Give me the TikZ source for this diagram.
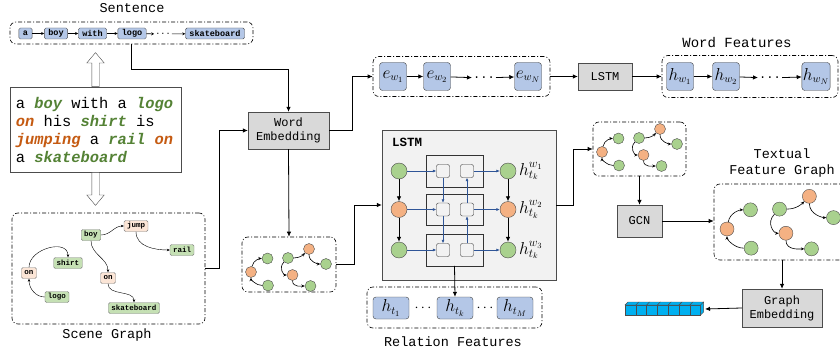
\documentclass[tikz,border=0pt]{standalone}
\usepackage{fontspec}
\setmonofont{Liberation Mono}[WordSpace={1,0,0}]
\usetikzlibrary{calc}
\usetikzlibrary{arrows.meta}
\usetikzlibrary{shapes.arrows}

\definecolor{tokblue}{HTML}{B4C7E7}
\definecolor{dotgreen}{HTML}{A9D18E}
\definecolor{dotorange}{HTML}{F4B183}
\definecolor{objgreen}{HTML}{C5E0B4}
\definecolor{relpink}{HTML}{FBE5D6}
\definecolor{wgreen}{HTML}{548235}
\definecolor{worange}{HTML}{C55A11}
\definecolor{boxgray}{HTML}{D9D9D9}
\definecolor{lstmbg}{HTML}{F2F2F2}
\definecolor{gateblue}{HTML}{2F5597}
\definecolor{tensorcyan}{HTML}{00B0F0}

\newcommand\gw[1]{\textcolor{wgreen}{\bfseries\itshape #1}}
\newcommand\ow[1]{\textcolor{worange}{\bfseries\itshape #1}}

\tikzset{
 frame/.style={draw, dash pattern=on 4pt off 2pt on 1pt off 2pt, rounded corners=6pt, semithick},
 flow/.style={black, thick, -{Latex[length=5pt,width=4.5pt]}},
 tiny/.style={black, semithick, -{Stealth[length=3pt,width=3pt]}},
 edge/.style={black, thin, -{Stealth[length=3pt,width=2.5pt]}},
 gedge/.style={black, semithick, -{Stealth[length=3.5pt,width=3pt]}},
 title/.style={font=\ttfamily\fontsize{13.5}{16}\selectfont},
 tok/.style={draw=black!70, fill=tokblue, rounded corners=1.5pt, font=\ttfamily\bfseries\fontsize{8.5}{8.5}\selectfont, minimum height=11pt, inner xsep=4pt, inner ysep=0pt},
 obj/.style={draw=black!50, fill=objgreen, rounded corners=1.5pt, font=\ttfamily\bfseries\fontsize{7.5}{7.5}\selectfont, minimum height=11pt, inner xsep=3pt, inner ysep=0pt},
 rel/.style={obj, fill=relpink},
 vec/.style={draw=black!75, fill=tokblue, rounded corners=3pt, minimum width=27pt, minimum height=28pt, inner sep=1pt, font=\fontsize{16}{16}\selectfont},
 dots/.style={font=\ttfamily\fontsize{12}{12}\selectfont, inner sep=1pt},
 gbox/.style={draw=black!70, fill=boxgray, align=center, font=\ttfamily\fontsize{12}{14}\selectfont},
 hollow/.style={single arrow, draw=black!70, fill=white, inner xsep=0pt, inner ysep=3.5pt, single arrow head extend=5pt, single arrow tip angle=80},
 dot/.style={circle, draw=black!70, minimum size=16pt, inner sep=0pt},
 gdot/.style={circle, draw=black!70, minimum size=11pt, inner sep=0pt},
 gate/.style={draw=black!80, thin},
 sq/.style={draw=black!80, fill=lstmbg, rounded corners=2pt, minimum size=13pt, inner sep=0pt},
 gatearrow/.style={gateblue, line width=0.6pt, -{Latex[length=3.5pt,width=3pt]}},
 tensor/.style={draw=black!70, fill=tensorcyan, line width=0.4pt},
 pics/featgraph/.style={code={
  \node[gdot, fill=dotorange] (-a) at (0,0) {};
  \node[gdot, fill=dotgreen] (-b) at (16.5,-13.5) {};
  \node[gdot, fill=dotgreen] (-c) at (17,13.5) {};
  \node[gdot, fill=dotgreen] (-d) at (37,-14) {};
  \node[gdot, fill=dotorange] (-e) at (58,-23) {};
  \node[gdot, fill=dotgreen] (-f) at (75,-8) {};
  \node[gdot, fill=dotorange] (-g) at (41.5,3) {};
  \node[gdot, fill=dotgreen] (-h) at (59.5,14) {};
  \draw[gedge] (-a) to[out=80,in=180] (-b);
  \draw[gedge] (-c) to[out=180,in=-90] (-a);
  \draw[gedge] (-d) to[out=0,in=225] (-e);
  \draw[gedge] (-e) to[out=-90,in=180] (-f);
  \draw[gedge] (-d) to[out=225,in=180,looseness=1.4] (-g);
  \draw[gedge] (-g) to[out=-90,in=180] (-h);
 }}
}

\begin{document}
\begin{tikzpicture}[x=1pt, y=-1pt]
\useasboundingbox (0,0) rectangle (840,350);
\clip (0,0) rectangle (840,350);

% sentence tokens
\node[title] at (132,8) {Sentence};
\node[frame, minimum width=243pt, minimum height=22pt] (sent) at (131.5,33) {};
\node[tok] (w1) at (25.5,33.5) {a};
\node[tok] (w2) at (56,33.5) {boy};
\node[tok] (w3) at (92.5,33.5) {with};
\node[tok] (w4) at (132,33.5) {logo};
\node[dots, font=\ttfamily\fontsize{8.5}{8.5}\selectfont] (w5) at (163,34) {...};
\node[tok] (w6) at (215,33.5) {skateboard};
\foreach \a/\b in {w1/w2,w2/w3,w3/w4,w4/w5,w5/w6}
 \draw[tiny] (\a) -- (\b);

% caption text
\node[draw=black!70, fill=white, text width=159pt, inner xsep=6pt, minimum height=85pt, align=left,
 font=\ttfamily\fontsize{15.4}{18}\selectfont] (txt) at (95.5,129.5)
 {\spaceskip=0.6em\relax a \gw{boy} with a \gw{logo}\\\ow{on} his \gw{shirt} is\\\ow{jumping} a \gw{rail} \ow{on}\\a \gw{skateboard}};
\node[hollow, rotate=90, minimum height=34pt, anchor=tail] (up) at (txt.north) {};
\node[hollow, rotate=-90, minimum height=33pt, anchor=tail] (down) at (txt.south) {};

% scene graph
\node[frame, minimum width=193pt, minimum height=111pt] (scene) at (108.5,268.5) {};
\node[title] at (107,335) {Scene Graph};
\node[obj] (boy) at (91,235) {boy};
\node[rel] (jump) at (136,226) {jump};
\node[obj] (rail) at (182,250) {rail};
\node[obj] (shirt) at (68,263) {shirt};
\node[rel] (on1) at (29,273) {on};
\node[rel] (on2) at (108,278) {on};
\node[obj] (logo) at (57,297) {logo};
\node[obj] (skate) at (134,308) {skateboard};
\draw[edge] (boy.east) to[out=0,in=180] (jump.west);
\draw[edge] (jump.south) to[out=-90,in=180] (rail.west);
\draw[edge] (boy.south) to[out=-90,in=90] (on2.north);
\draw[edge] (on2.south) to[out=-90,in=90] (skate.north);
\draw[edge] (on1.north) to[out=90,in=90,looseness=1.2] (shirt.north);
\draw[edge] (logo.west) to[out=180,in=-90] (on1.south);

% word embedding
\node[gbox, minimum width=81pt, minimum height=37pt] (we) at (288.5,130.5) {Word\\Embedding};
\draw[flow] (sent.south) -- ++(0,25) -| (we.north);
\draw[flow] (scene.east) -- ++(14,0) |- (we.west);

% word features
\node[frame, minimum width=177pt, minimum height=40pt] (eframe) at (461.5,76.5) {};
\node[vec] (e1) at (393,76.5) {$e_{w_1}$};
\node[vec] (e2) at (437,76.5) {$e_{w_2}$};
\node[dots] (edots) at (484,78) {...};
\node[vec] (eN) at (528,76.5) {$e_{w_N}$};
\draw[flow] (e1) -- (e2);
\draw[flow] (e2) -- (edots);
\draw[flow] (edots) -- (eN);
\draw[flow] (we.east) -- ++(23,0) |- (eframe.west);
\node[gbox, minimum width=54pt, minimum height=27pt] (lstm) at (605,76.5) {LSTM};
\draw[flow] (eframe.east) -- (lstm.west);
\node[title, font=\ttfamily\fontsize{14}{16}\selectfont] at (737,43) {Word Features};
\node[frame, minimum width=176pt, minimum height=42pt] (wframe) at (750,76.5) {};
\node[vec] (h1) at (680,76.5) {$h_{w_1}$};
\node[vec] (h2) at (726,76.5) {$h_{w_2}$};
\node[dots] (hdots) at (770,78) {...};
\node[vec] (hN) at (816,76.5) {$h_{w_N}$};
\draw[flow] (h1) -- (h2);
\draw[flow] (h2) -- (hdots);
\draw[flow] (hdots) -- (hN);
\draw[flow] (lstm.east) -- (wframe.west);

% initial graph
\node[frame, minimum width=94pt, minimum height=55pt] (g1) at (289,264.5) {};
\pic (g1n) at (251,272) {featgraph};
\draw[flow] (we.south) -- (g1.north);

% graph lstm
\node[draw=black!70, fill=lstmbg, minimum width=174pt, minimum height=150pt] (cell) at (469,205) {};
\node[font=\ttfamily\bfseries\fontsize{12.5}{12.5}\selectfont] at (407,142) {LSTM};
\foreach \r/\y/\c in {1/171/dotgreen, 2/209.5/dotorange, 3/250/dotgreen} {
 \node[gate, minimum width=57pt, minimum height=31.5pt] (row\r) at (454.5,\y) {};
 \node[dot, fill=\c] (l\r) at (399,\y) {};
 \node[dot, fill=\c] (r\r) at (508,\y) {};
 \node[sq] (a\r) at (443,\y) {};
 \node[sq] (b\r) at (467,\y) {};
 \draw[gatearrow] (l\r) -- (a\r);
 \draw[gatearrow] (b\r) -- (r\r);
 \node[anchor=west, inner sep=0pt, font=\fontsize{17}{17}\selectfont] (lab\r) at (519,\y) {$h^{w_\r}_{t_k}$};
}
\draw[gatearrow] (a1) -- (a2);
\draw[gatearrow] (a2) -- (a3);
\draw[gatearrow] (b3) -- (b2);
\draw[gatearrow] (b2) -- (b1);
\foreach \u/\v in {l1/l2,l2/l3,r1/r2,r2/r3}
 \draw[flow] (\u) -- (\v);
\draw[flow] (g1.east) -- ++(18,0) |- (cell.west);

% relation features
\node[frame, minimum width=175pt, minimum height=41pt] (rframe) at (454.5,307.5) {};
\node[vec, minimum width=36pt, minimum height=22pt] (ht1) at (391,308) {$h_{t_1}$};
\node[font=\fontsize{14}{14}\selectfont] (rd1) at (423,308) {$\cdots$};
\node[vec, minimum width=36pt, minimum height=22pt] (htk) at (455,308) {$h_{t_k}$};
\node[font=\fontsize{14}{14}\selectfont] (rd2) at (485,308) {$\cdots$};
\node[vec, minimum width=36pt, minimum height=22pt] (htM) at (515,308) {$h_{t_M}$};
\node[title] at (453,342) {Relation Features};
\draw[flow] (row3.south) -- (htk.north);

% gcn
\node[frame, minimum width=93pt, minimum height=54pt] (g2) at (639.5,149) {};
\pic (g2n) at (602,152) {featgraph};
\draw[flow] (cell.east) -- ++(17,0) |- (g2.west);
\node[gbox, minimum width=45pt, minimum height=32pt] (gcn) at (639.5,221) {GCN};
\draw[flow] (g2.south) -- (gcn.north);

% textual feature graph
\node[title, align=center] at (782,163) {Textual\\Feature Graph};
\node[frame, minimum width=156pt, minimum height=76pt] (g3) at (792,222) {};
\pic[scale=1.42, gdot/.append style={minimum size=14pt}] (g3n) at (727,229) {featgraph};
\draw[flow] (gcn.east) -- (gcn.east -| g3.west);
\node[gbox, minimum width=80pt, minimum height=38pt] (ge) at (782,308) {Graph\\Embedding};
\draw[flow] (ge.north |- g3.south) -- (ge.north);

% graph vector
\foreach \i in {0,...,6} {
 \draw[tensor] (625+\i*10.8,305) rectangle ++(10.8,10);
 \draw[tensor] (625+\i*10.8,305) -- ++(3,-3) -- ++(10.8,0) -- ++(-3,3) -- cycle;
}
\draw[tensor] (700.6,305) -- ++(3,-3) -- ++(0,10) -- ++(-3,3) -- cycle;
\coordinate (vec) at (705,309);
\draw[flow] (ge.west) -- (vec);
\end{tikzpicture}
\end{document}
